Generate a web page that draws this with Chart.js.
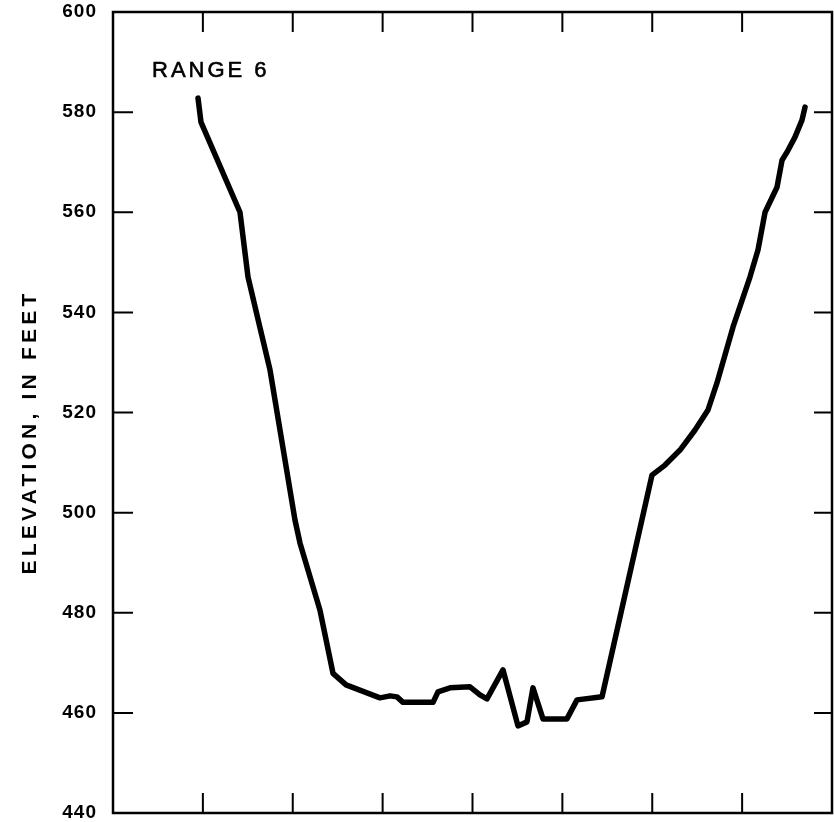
<!DOCTYPE html>
<html>
<head>
<meta charset="utf-8">
<script src="https://cdn.jsdelivr.net/npm/chart.js@4.4.0/dist/chart.umd.min.js"></script>
<style>
  html, body { margin: 0; padding: 0; background: #fff; }
  #wrap { width: 834px; height: 822px; }
</style>
</head>
<body>
<div id="wrap"><canvas id="rangeChart" width="834" height="822"></canvas></div>
<script>
// Cross section, Range 6 (station in arbitrary tick units, elevation in feet)
var stations = [
  0.946, 0.979, 1.413, 1.502, 1.636, 1.747, 2.025, 2.081, 2.303, 2.448,
  2.593, 2.971, 3.082, 3.160, 3.227, 3.561, 3.616, 3.750, 3.972, 4.083,
  4.161, 4.339, 4.506, 4.606, 4.673, 4.784, 5.051, 5.163, 5.441, 5.997,
  6.142, 6.309, 6.476, 6.620, 6.720, 6.899, 7.088, 7.177, 7.255, 7.388,
  7.444, 7.499, 7.588, 7.666, 7.700
];
var elevations = [
  582.8, 578.0, 560.0, 547.1, 536.9, 528.5, 498.5, 493.9, 480.5, 467.9,
  465.6, 463.0, 463.4, 463.2, 462.1, 462.1, 464.2, 465.0, 465.2, 463.6,
  462.8, 468.6, 457.4, 458.2, 465.0, 458.8, 458.8, 462.6, 463.2, 507.5,
  509.5, 512.5, 516.5, 520.5, 525.9, 537.1, 547.1, 552.5, 560.0, 565.0,
  570.4, 572.0, 575.0, 578.4, 581.0
];
var yTicks = [440, 460, 480, 500, 520, 540, 560, 580, 600];
var xTicks = [1, 2, 3, 4, 5, 6, 7];
var yTitle = "ELEVATION, IN FEET";
var rangeLabel = "RANGE 6";

var fontFamily = "'Liberation Sans', Arial, Helvetica, sans-serif";

// frame + inward ticks + texts
var framePlugin = {
  id: "frame",
  beforeDraw: function (chart) {
    chart.ctx.letterSpacing = "1px";
  },
  afterDraw: function (chart) {
    var ctx = chart.ctx;
    var a = chart.chartArea;
    var xs = chart.scales.x;
    var ys = chart.scales.y;
    ctx.save();
    ctx.strokeStyle = "#000";
    ctx.lineWidth = 2.5;
    ctx.strokeRect(a.left, a.top, a.right - a.left, a.bottom - a.top);

    ctx.lineWidth = 2;
    ctx.beginPath();
    xTicks.forEach(function (v) {
      var px = xs.getPixelForValue(v);
      ctx.moveTo(px, a.top);
      ctx.lineTo(px, a.top + 20);
      ctx.moveTo(px, a.bottom);
      ctx.lineTo(px, a.bottom - 20);
    });
    yTicks.slice(1, -1).forEach(function (v) {
      var py = ys.getPixelForValue(v);
      ctx.moveTo(a.left, py);
      ctx.lineTo(a.left + 20, py);
      ctx.moveTo(a.right, py);
      ctx.lineTo(a.right - 18, py);
    });
    ctx.stroke();

    ctx.fillStyle = "#000";
    ctx.strokeStyle = "#000";
    ctx.lineWidth = 0.6;
    ctx.letterSpacing = "3px";
    ctx.font = "22px " + fontFamily;
    ctx.textAlign = "left";
    ctx.textBaseline = "alphabetic";
    ctx.fillText(rangeLabel, 152, 77);
    ctx.strokeText(rangeLabel, 152, 77);

    ctx.letterSpacing = "4.2px";
    ctx.font = "bold 21px " + fontFamily;
    ctx.translate(30, 432);
    ctx.rotate(-Math.PI / 2);
    ctx.textAlign = "center";
    ctx.textBaseline = "middle";
    ctx.fillText(yTitle, 0, 0);
    ctx.restore();
  },
};

document.addEventListener("DOMContentLoaded", function () {
  var ctx = document.getElementById("rangeChart").getContext("2d");

  var points = stations.map(function (s, i) {
    return { x: s, y: elevations[i] };
  });

  new Chart(ctx, {
    type: "line",
    data: {
      datasets: [
        {
          label: rangeLabel,
          data: points,
          borderColor: "#000",
          borderWidth: 5.5,
          borderJoinStyle: "round",
          borderCapStyle: "round",
          pointRadius: 0,
          tension: 0,
          fill: false,
        },
      ],
    },
    options: {
      responsive: false,
      animation: false,
      layout: { padding: { left: 0, top: 12, right: 2, bottom: 9 } },
      plugins: {
        legend: { display: false },
        tooltip: { enabled: false },
      },
      scales: {
        x: {
          type: "linear",
          display: false,
          min: 0,
          max: 8,
        },
        y: {
          type: "linear",
          min: 440,
          max: 600,
          afterFit: function (scale) {
            scale.width = 113;
            scale.paddingTop = 0;
            scale.paddingBottom = 0;
          },
          afterBuildTicks: function (scale) {
            scale.ticks = yTicks.map(function (v) {
              return { value: v };
            });
          },
          grid: { display: false },
          border: { display: false },
          ticks: {
            color: "#000",
            padding: 8,
            font: { family: fontFamily, size: 19, weight: "bold" },
          },
        },
      },
    },
    plugins: [framePlugin],
  });
});
</script>
</body>
</html>
